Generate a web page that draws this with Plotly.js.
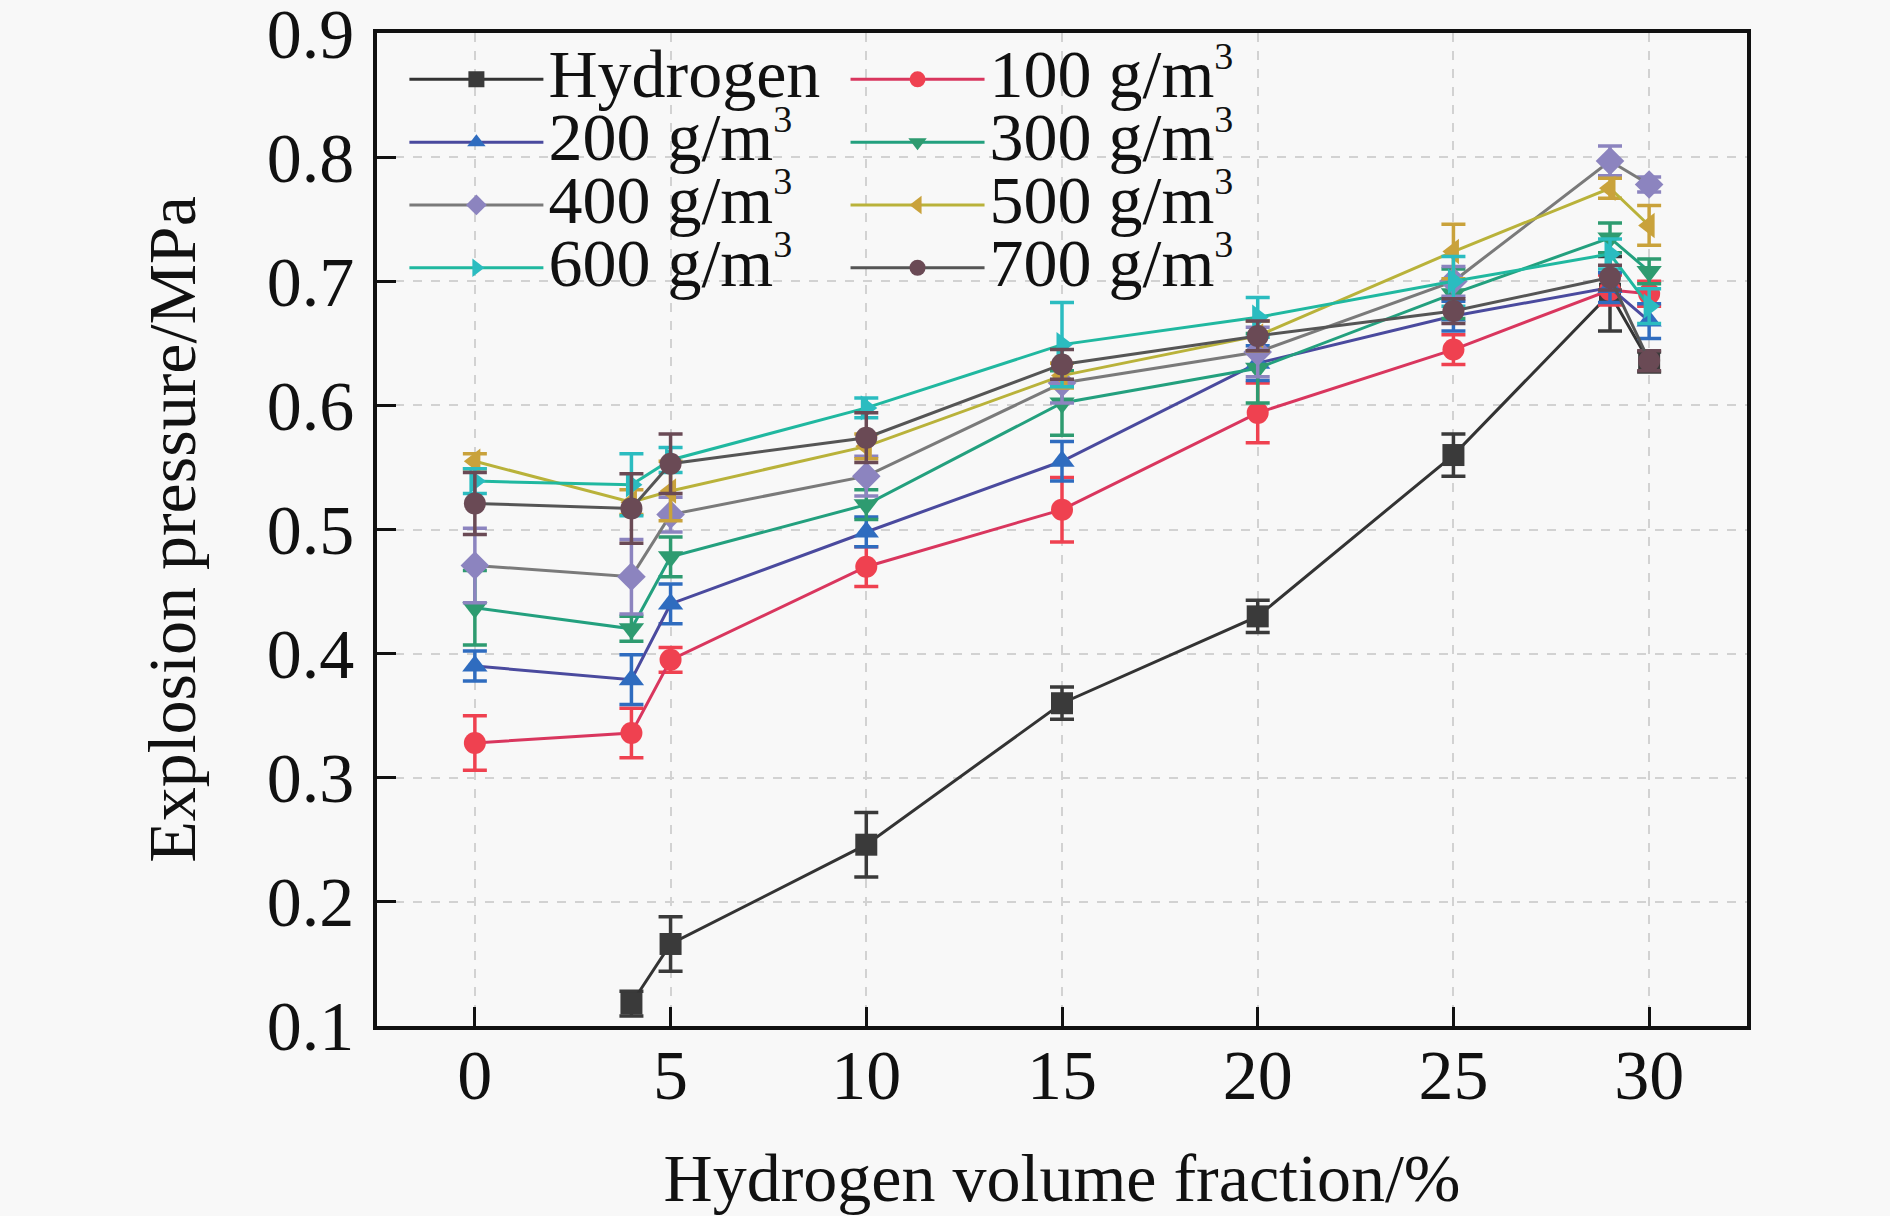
<!DOCTYPE html>
<html>
<head>
<meta charset="utf-8">
<script src="https://cdn.plot.ly/plotly-3.0.1.min.js"></script>
<style>
  html, body { margin: 0; padding: 0; background: #f8f8f8; }
  #chart { width: 1890px; height: 1216px; }
</style>
</head>
<body>
<div id="chart"></div>
<script>
// hydrogen volume fraction (%)
let dust_x = [0, 4, 5, 10, 15, 20, 25, 29, 30];
let h2_x = [4, 5, 10, 15, 20, 25, 29, 30];

// explosion pressure (MPa) and error bars
let h2_y = [0.118, 0.166, 0.246, 0.360, 0.430, 0.560, 0.690, 0.635];
let h2_err = [0.010, 0.022, 0.026, 0.013, 0.013, 0.017, 0.030, 0.008];

let d100_y = [0.328, 0.336, 0.395, 0.470, 0.516, 0.594, 0.645, 0.693, 0.690];
let d100_err = [0.022, 0.020, 0.010, 0.016, 0.026, 0.024, 0.012, 0.012, 0.010];
let d200_y = [0.390, 0.379, 0.440, 0.498, 0.555, 0.634, 0.672, 0.695, 0.668];
let d200_err = [0.012, 0.020, 0.016, 0.012, 0.016, 0.014, 0.012, 0.012, 0.014];
let d300_y = [0.437, 0.420, 0.478, 0.520, 0.602, 0.630, 0.690, 0.735, 0.708];
let d300_err = [0.030, 0.010, 0.016, 0.012, 0.026, 0.028, 0.020, 0.012, 0.010];
let d400_y = [0.471, 0.462, 0.512, 0.543, 0.618, 0.643, 0.700, 0.797, 0.778];
let d400_err = [0.030, 0.030, 0.014, 0.016, 0.016, 0.020, 0.012, 0.012, 0.006];
let d500_y = [0.555, 0.522, 0.531, 0.567, 0.624, 0.656, 0.724, 0.775, 0.745];
let d500_err = [0.006, 0.010, 0.024, 0.010, 0.010, 0.012, 0.022, 0.008, 0.016];
let d600_y = [0.539, 0.536, 0.556, 0.598, 0.649, 0.671, 0.700, 0.722, 0.680];
let d600_err = [0.010, 0.025, 0.010, 0.008, 0.034, 0.016, 0.020, 0.012, 0.014];
let d700_y = [0.521, 0.517, 0.553, 0.574, 0.633, 0.656, 0.676, 0.703, 0.636];
let d700_err = [0.025, 0.028, 0.024, 0.020, 0.012, 0.012, 0.010, 0.010, 0.008];

let x_ticks = [0, 5, 10, 15, 20, 25, 30];
let y_ticks = [0.1, 0.2, 0.3, 0.4, 0.5, 0.6, 0.7, 0.8, 0.9];

const FONT = "Liberation Serif, Times New Roman, serif";

function legendName(txt, sup) {
    let s = '<span style="font-size:68px">' + txt;
    if (sup) {
        s += '<sup><span style="font-size:38px">' + sup + '</span></sup>';
    }
    return s + '</span>';
}

function addSeries(data, x, y, err, name, sup, symbol, markerColor, lineColor, legend) {
    data.push({
        x: x, y: y, type: "scatter", mode: "lines+markers",
        name: legendName(name, sup), legend: legend,
        line: { color: lineColor, width: 3 },
        marker: { symbol: symbol, size: 22, color: markerColor },
        error_y: { type: "data", array: err, visible: true, color: markerColor, thickness: 3.5, width: 12 }
    });
}

let data = [];
addSeries(data, h2_x, h2_y, h2_err, "Hydrogen", "", "square", "#3a3a3a", "#333333", "legend");
addSeries(data, dust_x, d100_y, d100_err, "100 g/m", "3", "circle", "#ef4150", "#d9365e", "legend2");
addSeries(data, dust_x, d200_y, d200_err, "200 g/m", "3", "triangle-up", "#2f6cbf", "#4a4a9e", "legend");
addSeries(data, dust_x, d300_y, d300_err, "300 g/m", "3", "triangle-down", "#2e9b70", "#23a07e", "legend2");
addSeries(data, dust_x, d400_y, d400_err, "400 g/m", "3", "diamond", "#8c84bf", "#7a7a7a", "legend");
addSeries(data, dust_x, d500_y, d500_err, "500 g/m", "3", "triangle-left", "#c9a23b", "#b9b23a", "legend2");
addSeries(data, dust_x, d600_y, d600_err, "600 g/m", "3", "triangle-right", "#2bbcc0", "#20b8a0", "legend");
addSeries(data, dust_x, d700_y, d700_err, "700 g/m", "3", "circle", "#6a4a55", "#555555", "legend2");

let legendBase = {
    orientation: "v", xref: "paper", yref: "paper",
    xanchor: "left", yanchor: "top",
    bgcolor: "rgba(0,0,0,0)", borderwidth: 0,
    font: { family: FONT, size: 46, color: "#111" },
    itemwidth: 134, tracegroupgap: 0
};

let layout = {
    width: 1890, height: 1216,
    paper_bgcolor: "#f8f8f8", plot_bgcolor: "#f8f8f8",
    margin: { l: 377, r: 143, t: 33, b: 190 },
    font: { family: FONT, size: 70, color: "#111" },
    showlegend: true,
    legend: Object.assign({}, legendBase, { x: 0.020, y: 0.990 }),
    legend2: Object.assign({}, legendBase, { x: 0.342, y: 0.990 }),
    xaxis: {
        range: [-2.5, 32.5], tickvals: x_ticks, ticktext: x_ticks.map(String),
        ticks: "inside", ticklen: 19, tickwidth: 3, tickcolor: "#111",
        showline: true, linewidth: 3.5, linecolor: "#111", mirror: true,
        showgrid: true, gridcolor: "#d2d2d2", gridwidth: 1.5, griddash: "dash",
        zeroline: false, ticklabelstandoff: -15,
        tickfont: { family: FONT, size: 70 },
        title: { text: "Hydrogen volume fraction/%", font: { family: FONT, size: 68 }, standoff: 50 }
    },
    yaxis: {
        range: [0.0999, 0.9001], tickvals: y_ticks, ticktext: y_ticks.map(v => v.toFixed(1)),
        ticks: "inside", ticklen: 19, tickwidth: 3, tickcolor: "#111",
        showline: true, linewidth: 3.5, linecolor: "#111", mirror: true,
        showgrid: true, gridcolor: "#d2d2d2", gridwidth: 1.5, griddash: "dash",
        zeroline: false, ticklabelstandoff: 5, ticklabeloverflow: "allow",
        tickfont: { family: FONT, size: 70 },
        title: { text: "Explosion pressure/MPa", font: { family: FONT, size: 68 }, standoff: 50 }
    }
};

Plotly.newPlot("chart", data, layout, { displayModeBar: false, responsive: false });
</script>
</body>
</html>
